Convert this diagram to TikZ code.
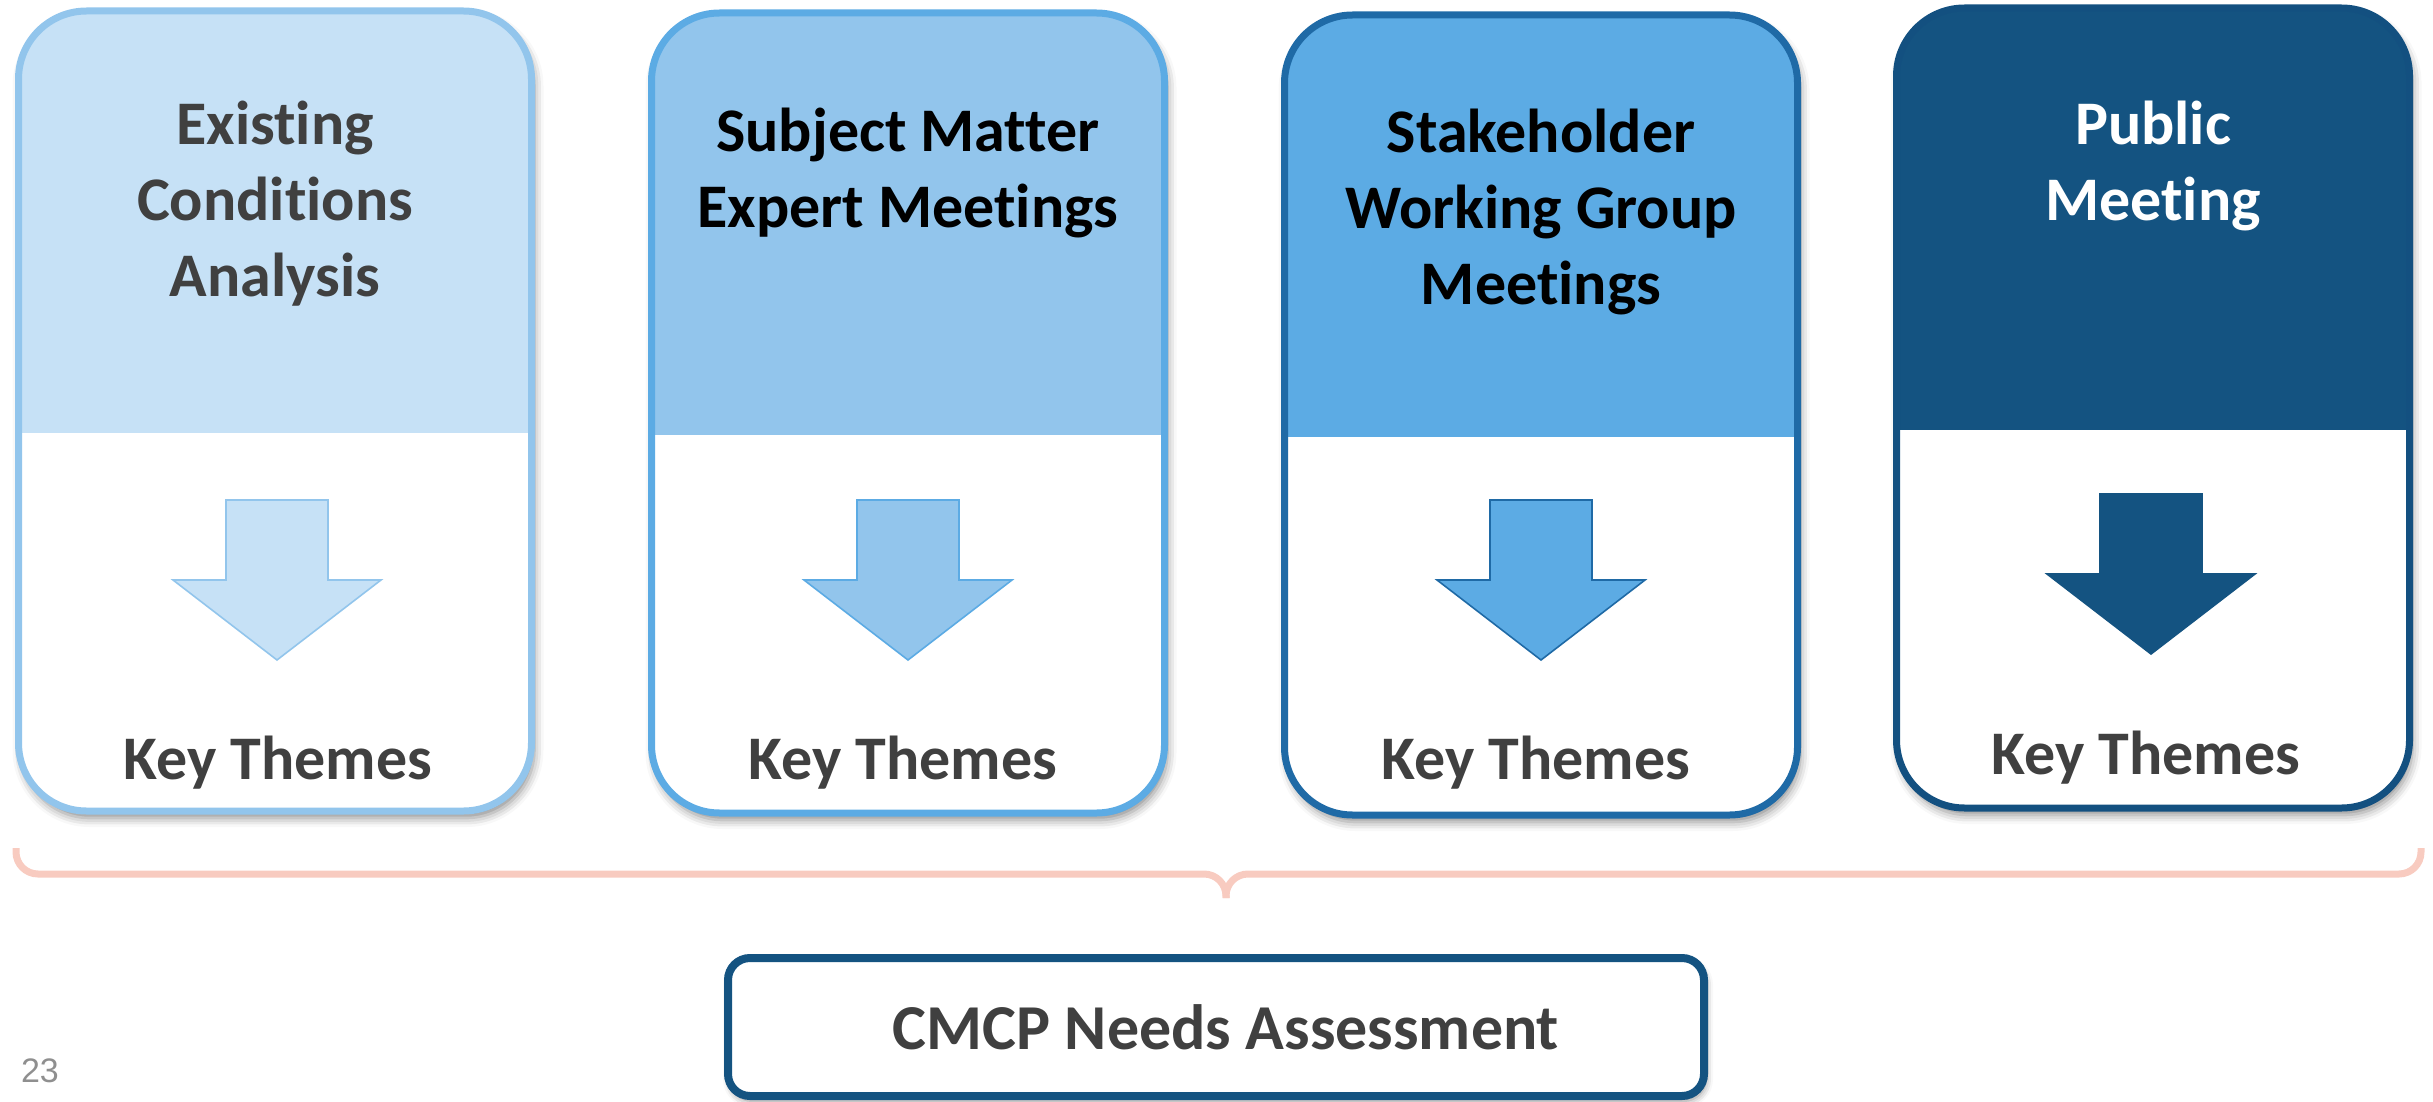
\documentclass[tikz,border=0pt]{standalone}
\usepackage{fontspec}
\setmainfont{Carlito}[Ligatures=NoCommon]
\newfontfamily\pagenumfont{Liberation Sans}
\usetikzlibrary{shadows.blur}
\definecolor{cAf}{HTML}{C6E1F6}
\definecolor{cAb}{HTML}{92C5EC}
\definecolor{cBf}{HTML}{92C5EC}
\definecolor{cBb}{HTML}{5CABE4}
\definecolor{cCf}{HTML}{5CABE4}
\definecolor{cCb}{HTML}{1F6AA6}
\definecolor{cDf}{HTML}{145381}
\definecolor{cDb}{HTML}{135080}
\definecolor{darktext}{HTML}{404040}
\definecolor{bracecol}{HTML}{F8CBC0}
\definecolor{pagegray}{HTML}{8F8F8F}
\begin{document}
\begin{tikzpicture}[x=1pt,y=-1pt,
  card/.style 2 args={draw=#1, line width=7pt, rounded corners=68pt,
    minimum width=513pt, minimum height=800pt, inner sep=0pt, fill=white,
    blur shadow={shadow xshift=3pt, shadow yshift=-7pt, shadow blur radius=9pt, shadow opacity=45},
    path picture={\fill[#2, sharp corners] (path picture bounding box.north west) rectangle
      ([yshift=-422pt]path picture bounding box.north east);}},
  hdrtext/.style={font=\bfseries\fontsize{62}{76}\selectfont, align=center, inner sep=0pt},
  keytext/.style={font=\bfseries\fontsize{62}{76}\selectfont, text=darktext, inner sep=0pt},
  arrowshape/.style 2 args={fill=#2, draw=#1, line width=1.6pt, line join=miter},
  bracestyle/.style={draw=bracecol, line width=7pt, rounded corners=22pt},
  resultbox/.style={draw=cDf, line width=8pt, rounded corners=22pt, fill=white,
    minimum width=976pt, minimum height=138pt, inner sep=0pt,
    blur shadow={shadow xshift=2pt, shadow yshift=-5pt, shadow blur radius=7pt, shadow opacity=45},
    font=\bfseries\fontsize{64}{76}\selectfont, text=darktext}
]
\useasboundingbox (0,0) rectangle (2433,1102);

% cards
\node[card={cAb}{cAf}] (card1) at (275,411) {};
\node[card={cBb}{cBf}] (card2) at (908,413) {};
\node[card={cCb}{cCf}] (card3) at (1541,415) {};
\node[card={cDb}{cDf}] (card4) at (2153,408) {};

% header texts
\node[hdrtext, text=darktext] (h1) at (275,204) {Existing\\Conditions\\Analysis};
\node[hdrtext, text=black] (h2) at (908,173) {Subject Matter\\Expert Meetings};
\node[hdrtext, text=black] (h3) at (1541,212) {Stakeholder\\Working Group\\Meetings};
\node[hdrtext, text=white] (h4) at (2153,166) {Public\\Meeting};

% arrows
\coordinate (a1) at (277,500);
\coordinate (a2) at (908,500);
\coordinate (a3) at (1541,500);
\coordinate (a4) at (2151,494);
\foreach \c/\b/\f in {a1/cAb/cAf, a2/cBb/cBf, a3/cCb/cCf, a4/cDf/cDf}{
  \draw[arrowshape={\b}{\f}]
    ([xshift=-51pt]\c) -- ([xshift=51pt]\c) -- ([xshift=51pt,yshift=-80pt]\c)
    -- ([xshift=104pt,yshift=-80pt]\c) -- ([yshift=-160pt]\c)
    -- ([xshift=-104pt,yshift=-80pt]\c) -- ([xshift=-51pt,yshift=-80pt]\c) -- cycle;
}

% key themes
\node[keytext] (k1) at (278,763) {Key Themes};
\node[keytext] (k2) at (903,763) {Key Themes};
\node[keytext] (k3) at (1536,763) {Key Themes};
\node[keytext] (k4) at (2146,758) {Key Themes};

% brace
\coordinate (bl) at (16,848);
\coordinate (br) at (2421,848);
\coordinate (btip) at (1226,898);
\draw[bracestyle] (bl) -- (16,874) -- (1226,874) -- (btip);
\draw[bracestyle] (br) -- (2421,874) -- (1226,874) -- (btip);

% result box
\node[resultbox] (needs) at (1216,1027) {\hspace*{20pt}\raisebox{-3pt}{CMCP Needs Assessment}};

% page number
\node[font=\pagenumfont\fontsize{34}{40}\selectfont, text=pagegray, inner sep=0pt] (pg) at (40,1071) {23};
\end{tikzpicture}
\end{document}
